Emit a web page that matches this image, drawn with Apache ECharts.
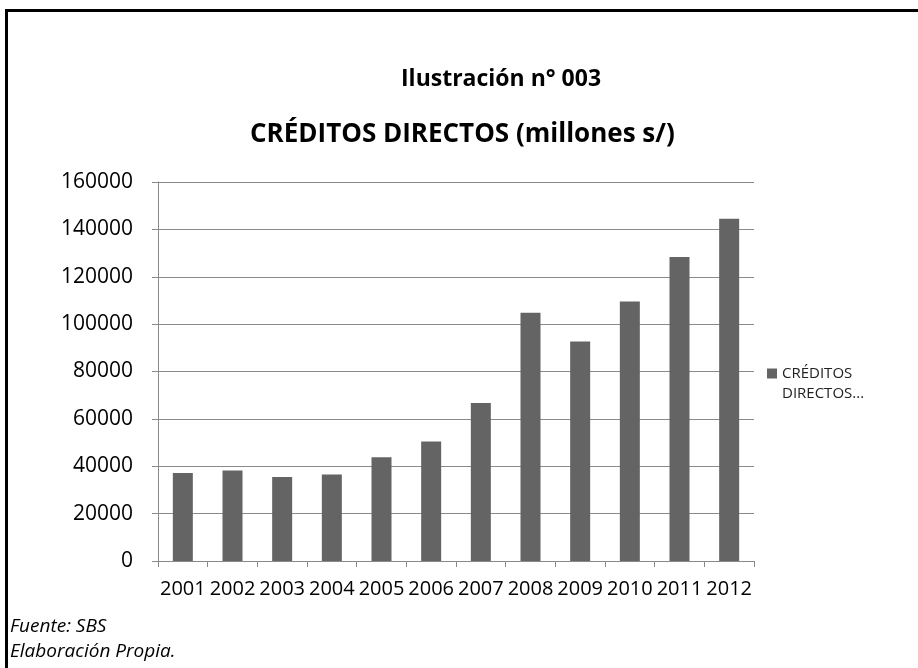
<!DOCTYPE html>
<html>
<head>
<meta charset="utf-8">
<script src="https://cdn.jsdelivr.net/npm/echarts@6/dist/echarts.min.js"></script>
<style>
  html, body { margin: 0; padding: 0; background: #fff; }
  #chart { width: 918px; height: 668px; }
</style>
</head>
<body>
<div id="chart"></div>
<script>
// Créditos directos por año (millones de soles)
const years = ['2001', '2002', '2003', '2004', '2005', '2006', '2007', '2008', '2009', '2010', '2011', '2012'];
const creditos = [37200, 38200, 35500, 36500, 43800, 50400, 66700, 104800, 92700, 109600, 128300, 144500];
const yTicks = [0, 20000, 40000, 60000, 80000, 100000, 120000, 140000, 160000];

const seriesName = 'CRÉDITOS DIRECTOS (millones s/)';
const baseFont = '"Open Sans", "Liberation Sans", sans-serif';
const gridGray = '#8a8a8a';

const chart = echarts.init(document.getElementById('chart'), null, { renderer: 'canvas' });

chart.setOption({
  backgroundColor: '#ffffff',
  animation: false,
  title: [
    {
      text: 'Ilustración n° 003',
      left: 396, top: 63,
      textStyle: { fontFamily: baseFont, fontSize: 23, fontWeight: 'bold', color: '#000' }
    },
    {
      text: 'CRÉDITOS DIRECTOS (millones s/)',
      left: 245, top: 117,
      textStyle: { fontFamily: baseFont, fontSize: 26, fontWeight: 'bold', color: '#000' }
    }
  ],
  legend: {
    show: true,
    left: 767, top: 366,
    padding: 0,
    itemWidth: 10, itemHeight: 10,
    itemGap: 0,
    icon: 'rect',
    data: [seriesName],
    formatter: () => 'CRÉDITOS',
    textStyle: { fontFamily: baseFont, fontSize: 15, color: '#222' }
  },
  grid: { left: 158, right: 164, top: 182, bottom: 107, containLabel: false },
  xAxis: {
    type: 'category',
    data: years,
    boundaryGap: true,
    axisLine: { show: true, lineStyle: { color: gridGray, width: 1 } },
    axisTick: { show: true, length: 6, alignWithLabel: false, lineStyle: { color: gridGray } },
    axisLabel: { fontFamily: baseFont, fontSize: 20, color: '#000', margin: 18, interval: 0 }
  },
  yAxis: {
    type: 'value',
    min: yTicks[0],
    max: yTicks[yTicks.length - 1],
    interval: yTicks[1] - yTicks[0],
    axisLine: { show: true, lineStyle: { color: gridGray, width: 1 } },
    axisTick: { show: true, length: 6, lineStyle: { color: gridGray } },
    splitLine: { show: true, lineStyle: { color: gridGray, width: 1 } },
    axisLabel: { fontFamily: baseFont, fontSize: 21, color: '#000', margin: 25, formatter: v => String(v) }
  },
  series: [
    {
      name: seriesName,
      type: 'bar',
      data: creditos,
      barWidth: 20,
      itemStyle: { color: '#646464' }
    }
  ],
  graphic: [
    {
      type: 'rect',
      shape: { x: 6.5, y: 10.5, width: 1000, height: 1000 },
      style: { fill: null, stroke: '#000', lineWidth: 3 },
      silent: true
    },
    {
      type: 'text',
      left: 782, top: 386,
      style: { text: 'DIRECTOS...', font: '15px "Open Sans", "Liberation Sans", sans-serif', fill: '#222' }
    },
    {
      type: 'text',
      left: 10, top: 617,
      style: { text: 'Fuente: SBS', font: 'italic 19px "Open Sans", "Liberation Sans", sans-serif', fill: '#000' }
    },
    {
      type: 'text',
      left: 10, top: 642,
      style: { text: 'Elaboración Propia.', font: 'italic 19px "Open Sans", "Liberation Sans", sans-serif', fill: '#000' }
    }
  ]
});
</script>
</body>
</html>
